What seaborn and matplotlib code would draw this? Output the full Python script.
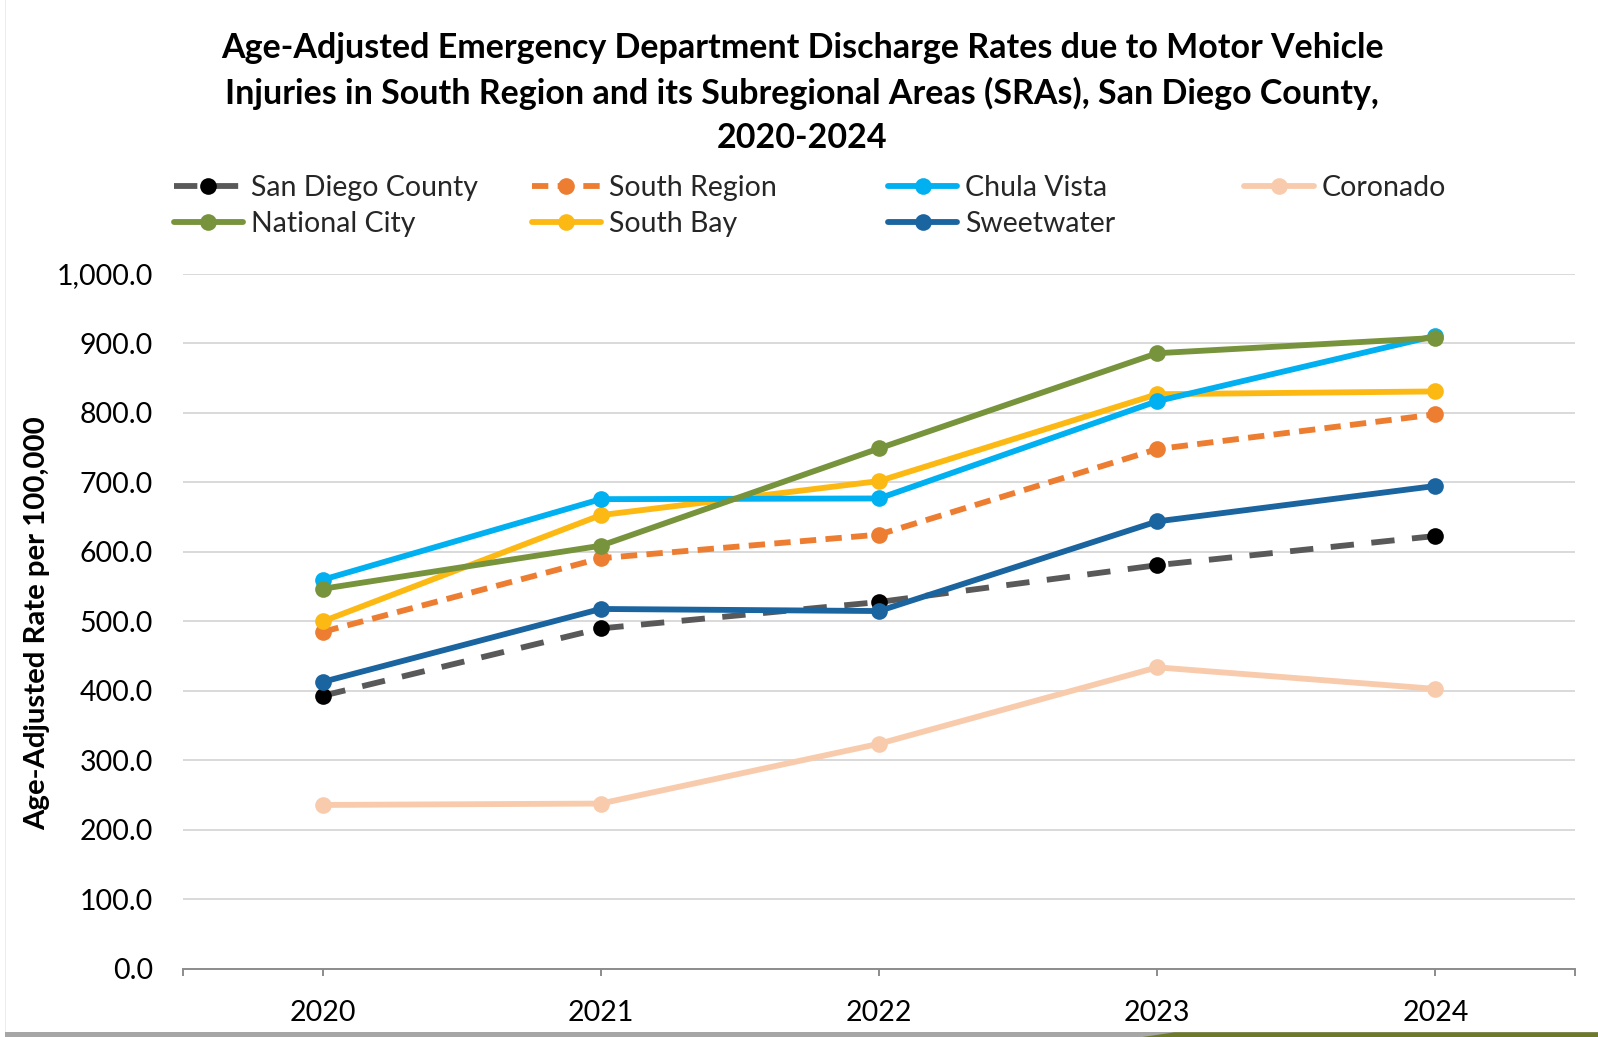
import matplotlib
matplotlib.use("Agg")
import matplotlib.pyplot as plt
from matplotlib.lines import Line2D
from matplotlib.patches import Polygon, Rectangle
import seaborn as sns
import pandas as pd

years = ["2020", "2021", "2022", "2023", "2024"]
san_diego_county = [393.0, 490.0, 528.0, 581.0, 623.0]
south_region = [485.0, 591.0, 625.0, 748.0, 798.0]
chula_vista = [560.0, 676.0, 677.0, 817.0, 911.0]
coronado = [236.0, 238.0, 324.0, 434.0, 403.0]
national_city = [547.0, 609.0, 749.0, 886.0, 908.0]
south_bay = [500.0, 653.0, 702.0, 827.0, 831.0]
sweetwater = [413.0, 518.0, 515.0, 644.0, 695.0]
y_ticks = [0, 100, 200, 300, 400, 500, 600, 700, 800, 900, 1000]

series = [
    ("San Diego County", san_diego_county, "#595959", "#000000", (0, (4.0, 3.0))),
    ("South Region", south_region, "#ED7D31", "#ED7D31", (0, (2.8, 1.6))),
    ("Chula Vista", chula_vista, "#00B0F0", "#00B0F0", "-"),
    ("Coronado", coronado, "#F8CBAD", "#F8CBAD", "-"),
    ("National City", national_city, "#77933C", "#77933C", "-"),
    ("South Bay", south_bay, "#FDB913", "#FDB913", "-"),
    ("Sweetwater", sweetwater, "#1A64A0", "#1A64A0", "-"),
]

sns.set_theme(style="white")
FONT = ["Lato", "DejaVu Sans"]
plt.rcParams["font.family"] = FONT

LW = 4.2
MS = 12

fig = plt.figure(figsize=(15.98, 10.37), dpi=100)
ax = fig.add_axes([0.1148, 0.0656, 0.8705, 0.6702])

x_pos = list(range(len(years)))
draw_order = ["Coronado", "San Diego County", "Sweetwater", "South Region",
              "South Bay", "Chula Vista", "National City"]
lookup = {s[0]: s for s in series}
for name in draw_order:
    _, vals, color, mcolor, ls = lookup[name]
    df = pd.DataFrame({"x": x_pos, "rate": vals})
    sns.lineplot(data=df, x="x", y="rate", ax=ax, color=color, linewidth=LW,
                 linestyle=ls, marker="o", markersize=MS, markerfacecolor=mcolor,
                 markeredgecolor=mcolor, markeredgewidth=0, legend=False)

ax.set_xlim(-0.5, len(years) - 0.5)
ax.set_ylim(0, 1000)
ax.set_yticks(y_ticks)
ax.set_yticklabels([f"{v:,.1f}" for v in y_ticks], fontsize=20.5, color="#000000")
ax.set_xticks(x_pos)
ax.set_xticklabels(years, fontsize=20.5, color="#000000")
ax.set_xticks([-0.5, len(years) - 0.5], minor=True)
ax.set_xlabel("")
ax.set_ylabel("")
ax.grid(axis="y", color="#D9D9D9", linewidth=1.4)
ax.set_axisbelow(True)
for side in ["top", "right", "left"]:
    ax.spines[side].set_visible(False)
ax.spines["bottom"].set_color("#8C8C8C")
ax.spines["bottom"].set_linewidth(1.4)
ax.tick_params(axis="x", which="both", direction="out", length=5, width=1.4,
               color="#8C8C8C", pad=17, bottom=True)
ax.tick_params(axis="y", length=0, pad=22)

fig.text(0.502, 0.9103,
         "Age-Adjusted Emergency Department Discharge Rates due to Motor Vehicle\n"
         "Injuries in South Region and its Subregional Areas (SRAs), San Diego County,\n"
         "2020-2024",
         ha="center", va="center", fontsize=24.5, fontweight="bold",
         linespacing=1.48, color="#000000")

fig.text(0.0235, 0.3995, "Age-Adjusted Rate per 100,000", rotation=90,
         ha="center", va="center", fontsize=21.2, fontweight="bold", color="#000000")

# legend: four columns placed at fixed positions
columns = [["San Diego County", "National City"], ["South Region", "South Bay"],
           ["Chula Vista", "Sweetwater"], ["Coronado"]]
col_x = [0.1087, 0.3327, 0.5557, 0.7787]
for cx, names in zip(col_x, columns):
    handles = []
    for name in names:
        _, _, color, mcolor, ls = lookup[name]
        handles.append(Line2D([], [], color=color, linewidth=LW, linestyle=ls,
                              marker="o", markersize=MS, markerfacecolor=mcolor,
                              markeredgewidth=0))
    fig.legend(handles, names, loc="upper left", bbox_to_anchor=(cx, 0.831),
               frameon=False, fontsize=20.5, handlelength=2.43, handletextpad=0.28,
               labelspacing=0.34, borderpad=0, borderaxespad=0)

# slide frame remnants along the edges
fig.add_artist(Rectangle((0.003, 0.0), 0.0008, 1.0, transform=fig.transFigure,
                         color="#EDEDED", linewidth=0))
fig.add_artist(Rectangle((0.003, 0.0), 0.997, 0.0045, transform=fig.transFigure,
                         color="#A6A6A6", linewidth=0))
fig.add_artist(Polygon([(0.715, 0.0), (0.735, 0.0045), (1.0, 0.0045), (1.0, 0.0)],
                       closed=True, transform=fig.transFigure, color="#6E7A2A",
                       linewidth=0))

fig.savefig("out.png", dpi=100, facecolor="white")
